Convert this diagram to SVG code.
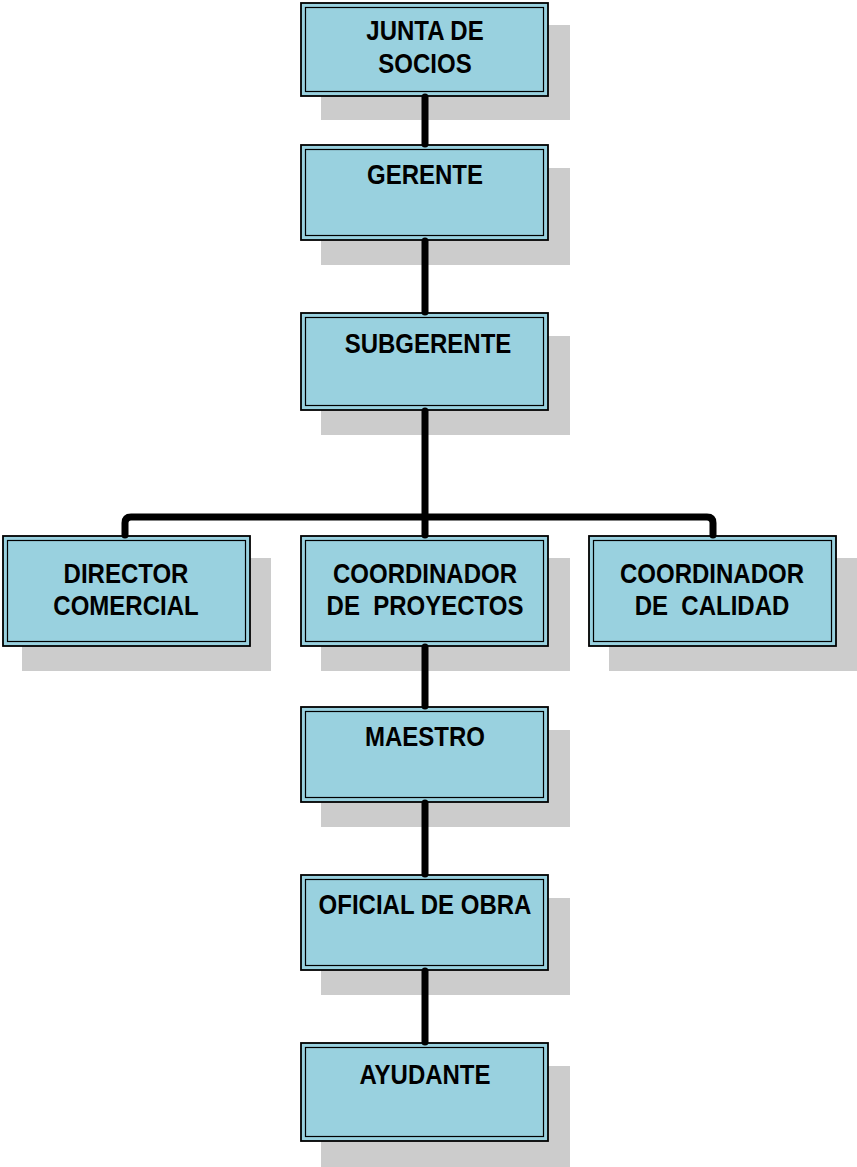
<svg xmlns="http://www.w3.org/2000/svg" width="857" height="1167" viewBox="0 0 857 1167">
  <style>
    .shadow { fill: #cccccc; }
    .outer { fill: #99d1df; stroke: #000; stroke-width: 1.8; }
    .inner { fill: none; stroke: #000; stroke-width: 1.2; }
    .label { font-family: "Liberation Sans", Arial, sans-serif; font-weight: bold; font-size: 27.5px; fill: #000; text-anchor: middle;
             transform-box: fill-box; transform-origin: center; transform: scaleX(0.873); }
    .wire { fill: none; stroke: #000; stroke-width: 7; stroke-linecap: round; stroke-linejoin: round; }
  </style>
  <rect width="857" height="1167" fill="#fff"/>

  <g id="junta">
    <rect class="shadow" x="321" y="25" width="249" height="95"/>
    <rect class="outer" x="301" y="3" width="247" height="93"/>
    <rect class="inner" x="305.5" y="7.5" width="238" height="84"/>
    <text class="label" x="425" y="40">JUNTA DE</text>
    <text class="label" x="425" y="73">SOCIOS</text>
  </g>

  <g id="gerente">
    <rect class="shadow" x="321" y="168" width="249" height="97"/>
    <rect class="outer" x="301" y="145" width="247" height="95"/>
    <rect class="inner" x="305.5" y="149.5" width="238" height="86"/>
    <text class="label" x="425" y="184">GERENTE</text>
  </g>

  <g id="subgerente">
    <rect class="shadow" x="321" y="336" width="249" height="99"/>
    <rect class="outer" x="301" y="313" width="247" height="97"/>
    <rect class="inner" x="305.5" y="317.5" width="238" height="88"/>
    <text class="label" x="428" y="353">SUBGERENTE</text>
  </g>

  <g id="director">
    <rect class="shadow" x="22" y="558" width="249" height="113"/>
    <rect class="outer" x="3" y="536" width="247" height="110"/>
    <rect class="inner" x="7.5" y="540.5" width="238" height="101"/>
    <text class="label" x="126" y="583">DIRECTOR</text>
    <text class="label" x="126" y="615">COMERCIAL</text>
  </g>

  <g id="proyectos">
    <rect class="shadow" x="321" y="558" width="249" height="113"/>
    <rect class="outer" x="301" y="536" width="247" height="110"/>
    <rect class="inner" x="305.5" y="540.5" width="238" height="101"/>
    <text class="label" x="425" y="583">COORDINADOR</text>
    <text class="label" x="425" y="615" xml:space="preserve">DE  PROYECTOS</text>
  </g>

  <g id="calidad">
    <rect class="shadow" x="609" y="558" width="249" height="113"/>
    <rect class="outer" x="589" y="536" width="247" height="110"/>
    <rect class="inner" x="593.5" y="540.5" width="238" height="101"/>
    <text class="label" x="712" y="583">COORDINADOR</text>
    <text class="label" x="712" y="615" xml:space="preserve">DE  CALIDAD</text>
  </g>

  <g id="maestro">
    <rect class="shadow" x="321" y="730" width="249" height="97"/>
    <rect class="outer" x="301" y="707" width="247" height="95"/>
    <rect class="inner" x="305.5" y="711.5" width="238" height="86"/>
    <text class="label" x="425" y="746">MAESTRO</text>
  </g>

  <g id="oficial">
    <rect class="shadow" x="321" y="898" width="249" height="97"/>
    <rect class="outer" x="301" y="875" width="247" height="95"/>
    <rect class="inner" x="305.5" y="879.5" width="238" height="86"/>
    <text class="label" x="425" y="914">OFICIAL DE OBRA</text>
  </g>

  <g id="ayudante">
    <rect class="shadow" x="321" y="1066" width="249" height="101"/>
    <rect class="outer" x="301" y="1043" width="247" height="98"/>
    <rect class="inner" x="305.5" y="1047.5" width="238" height="89"/>
    <text class="label" x="425" y="1084">AYUDANTE</text>
  </g>

  <!-- connectors sit over the drop shadows -->
  <g id="connectors">
    <path class="wire" d="M425 97 V144"/>
    <path class="wire" d="M425 241 V312"/>
    <path class="wire" d="M425 411 V535"/>
    <path class="wire" d="M125 535 V523 Q125 517 131 517 H707 Q713 517 713 523 V535"/>
    <path class="wire" d="M425 647 V706"/>
    <path class="wire" d="M425 803 V874"/>
    <path class="wire" d="M425 971 V1042"/>
  </g>
</svg>
